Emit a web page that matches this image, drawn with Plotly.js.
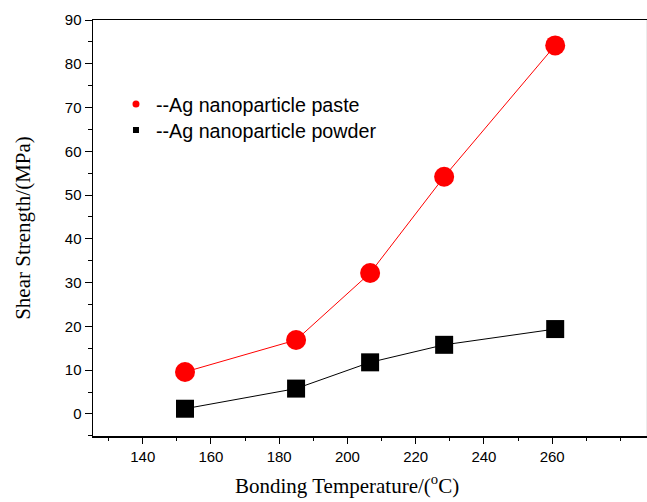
<!DOCTYPE html>
<html>
<head>
<meta charset="utf-8">
<script src="https://cdn.plot.ly/plotly-3.0.1.min.js"></script>
<style>html,body{margin:0;padding:0;background:#fff;}#chart{width:647px;height:502px;}</style>
</head>
<body>
<div id="chart"></div>
<script>
// Bonding temperatures (°C)
const temperatures = [150, 180, 200, 220, 250];
// Shear strength (MPa)
const pasteStrength = [9.6, 16.9, 32.2, 54.2, 84.2];
const powderStrength = [1.2, 5.8, 11.8, 15.8, 19.4];
const seriesNames = ['--Ag nanoparticle paste', '--Ag nanoparticle powder'];
const xTickVals = [140, 160, 180, 200, 220, 240, 260];
const yTickVals = [0, 10, 20, 30, 40, 50, 60, 70, 80, 90];

const sans = 'Liberation Sans, Arial, sans-serif';
const serif = 'Liberation Serif, Times New Roman, serif';

const traces = [
  {x: temperatures, y: pasteStrength, xaxis: 'x2', yaxis: 'y', mode: 'lines+markers',
   showlegend: false, line: {color: '#ff0000', width: 1},
   marker: {symbol: 'circle', size: 20, color: '#ff0000'}},
  {x: temperatures, y: powderStrength, xaxis: 'x2', yaxis: 'y', mode: 'lines+markers',
   showlegend: false, line: {color: '#000000', width: 1},
   marker: {symbol: 'square', size: 18, color: '#000000'}},
  {x: [null], y: [null], xaxis: 'x', yaxis: 'y', mode: 'markers', name: seriesNames[0],
   legend: 'legend', marker: {symbol: 'circle', size: 7, color: '#ff0000'}},
  {x: [null], y: [null], xaxis: 'x', yaxis: 'y', mode: 'markers', name: seriesNames[1],
   legend: 'legend2', marker: {symbol: 'square', size: 6, color: '#000000'}}
];

const legendFont = {family: sans, size: 19.7, color: '#000'};

const layout = {
  width: 647, height: 502,
  margin: {l: 93, r: 0, t: 20, b: 66, pad: 0},
  paper_bgcolor: '#ffffff', plot_bgcolor: '#ffffff',
  font: {family: sans, size: 15, color: '#000000'},
  showlegend: true,
  legend: {x: 0.0415, y: 0.8447, xanchor: 'left', yanchor: 'top',
           bgcolor: 'rgba(0,0,0,0)', font: legendFont},
  legend2: {x: 0.0415, y: 0.782, xanchor: 'left', yanchor: 'top',
           bgcolor: 'rgba(0,0,0,0)', font: legendFont},
  xaxis: {
    range: [125.43, 287.8], tickvals: xTickVals, ticks: 'outside', ticklen: 6,
    tickwidth: 1, tickcolor: '#000',
    minor: {tick0: 130, dtick: 10, ticks: 'outside', ticklen: 3, tickcolor: '#000'},
    showline: true, linecolor: '#000', linewidth: 1.5, mirror: true,
    showgrid: false, zeroline: false, tickfont: {family: sans, size: 15}
  },
  xaxis2: {
    range: [125.14, 274.8], overlaying: 'x', anchor: 'y', visible: false,
    showgrid: false, zeroline: false
  },
  yaxis: {
    range: [-5.03, 90], tickvals: yTickVals, ticks: 'outside', ticklen: 7,
    tickwidth: 1, tickcolor: '#000',
    minor: {tick0: 5, dtick: 10, ticks: 'outside', ticklen: 4, tickcolor: '#000'},
    showline: true, linecolor: '#000', linewidth: 1.5,
    showgrid: false, zeroline: false, tickfont: {family: sans, size: 15},
    title: {text: 'Shear Strength/(MPa)', standoff: 28, font: {family: serif, size: 21}}
  },
  shapes: [
    {type: 'line', xref: 'paper', yref: 'paper', x0: 1, x1: 1, y0: 0, y1: 1,
     line: {color: '#d8d8d8', width: 1}}
  ],
  annotations: [
    {text: 'Bonding Temperature/(<sup>o</sup>C)', xref: 'paper', yref: 'paper',
     x: 0.459, y: -0.155, xanchor: 'center', yanchor: 'bottom', showarrow: false,
     font: {family: serif, size: 21, color: '#000'}}
  ]
};

Plotly.newPlot('chart', traces, layout, {displayModeBar: false, staticPlot: true});
</script>
</body>
</html>
